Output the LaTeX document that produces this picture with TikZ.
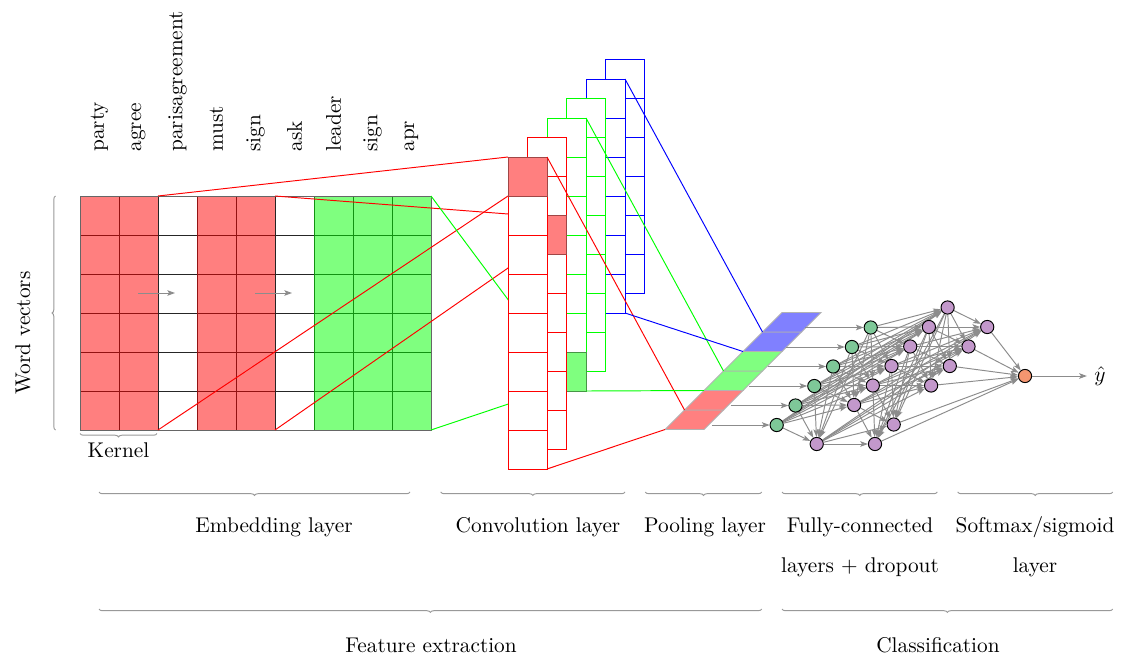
\documentclass[tikz,border=0pt]{standalone}
\usetikzlibrary{decorations.pathreplacing,arrows.meta,backgrounds}
\definecolor{ngreen}{RGB}{126,200,152}
\definecolor{npurple}{RGB}{195,152,203}
\definecolor{norange}{RGB}{245,150,112}
\definecolor{pred}{RGB}{255,128,128}
\definecolor{pgreen}{RGB}{128,255,128}
\definecolor{pblue}{RGB}{128,128,255}
\definecolor{cellred}{RGB}{255,0,0}
\definecolor{cellgreen}{RGB}{0,255,0}
\definecolor{cellblue}{RGB}{0,0,255}
\definecolor{edgered}{RGB}{160,70,70}
\definecolor{edgegreen}{RGB}{70,150,70}
\begin{document}
\begin{tikzpicture}[x=0.4695pt,y=-0.4695pt,
  nd/.style={circle, draw=black, line width=0.45pt, minimum size=6.2pt, inner sep=0pt},
  arr/.style={draw=black!45, line width=0.45pt, -{Stealth[length=3.6pt,width=2.6pt,inset=0.8pt]}},
  brc/.style={decorate, decoration={brace, amplitude=1.6pt}, draw=black!40, line width=0.45pt},
  wlabel/.style={rotate=90, anchor=west, inner sep=0pt},
  lbl/.style={anchor=base, inner sep=0pt},
  conn/.style={line width=0.45pt}]
\begin{pgfonlayer}{background}
  \fill[white] (0,0) rectangle (1121,660);
\end{pgfonlayer}
\useasboundingbox (0,0) rectangle (1121,660);

% ---------------- embedding matrix ----------------
\foreach \i in {0,...,9} \draw[black!85, line width=0.45pt] ({80+39*\i},196) -- ({80+39*\i},430);
\foreach \j in {0,...,6} \draw[black!85, line width=0.45pt] (80,{196+39*\j}) -- (431,{196+39*\j});
\fill[red, fill opacity=0.5] (80,196) rectangle (158,430);
\fill[red, fill opacity=0.5] (197,196) rectangle (275,430);
\fill[green, fill opacity=0.5] (314,196) rectangle (431,430);
\draw[black!60, line width=0.45pt] (80,196) rectangle (431,430);

\foreach \w [count=\i from 0] in {party,agree,parisagreement,must,sign,ask,leader,sign,apr}
  \node[wlabel] (w\i) at ({99.5+39*\i},152) {\w};

\coordinate (ea1) at (138,293); \coordinate (ea2) at (175,293);
\coordinate (eb1) at (255,293); \coordinate (eb2) at (292,293);
\draw[arr] (ea1) -- (ea2);
\draw[arr] (eb1) -- (eb2);

% braces near embedding
\coordinate (wvb1) at (55.5,430); \coordinate (wvb2) at (55.5,196);
\draw[brc] (wvb1) -- (wvb2);
\node[rotate=90] (wv) at (23,333) {Word vectors};
\coordinate (kb1) at (157,433.5); \coordinate (kb2) at (80,433.5);
\draw[brc] (kb1) -- (kb2);
\node[lbl] (kern) at (118.5,457.5) {Kernel};

% corner coordinates of embedding
\coordinate (k1t) at (158,196); \coordinate (k1b) at (158,430);
\coordinate (k2t) at (275,196); \coordinate (k2b) at (275,430);
\coordinate (k3t) at (431,196); \coordinate (k3b) at (431,430);

% conv targets
\coordinate (c0a) at (508,157);     \coordinate (c0b) at (508,196);
\coordinate (c1a) at (527.5,215.5); \coordinate (c1b) at (527.5,254.5);
\coordinate (c2a) at (547,352);     \coordinate (c2b) at (547,391);

% embedding -> conv lines (drawn before columns)
\draw[conn, cellred] (k1t) -- (c0a);
\draw[conn, cellred] (k1b) -- (c0b);
\draw[conn, cellred] (k2t) -- (c1a);
\draw[conn, cellred] (k2b) -- (c1b);
\draw[conn, cellgreen] (k3t) -- (c2a);
\draw[conn, cellgreen] (k3b) -- (c2b);

% ---------------- convolution columns ----------------
\foreach \k/\nc/\colr/\fc/\ecol in {5/6/cellblue/-1/cellblue, 4/6/cellblue/-1/cellblue, 3/7/cellgreen/-1/edgegreen, 2/7/cellgreen/6/edgegreen, 1/8/cellred/2/edgered, 0/8/cellred/0/edgered}{
  \pgfmathsetmacro\cx{508+19.5*\k}
  \pgfmathsetmacro\cy{157-19.5*\k}
  \pgfmathtruncatemacro\nm{\nc-1}
  \fill[white] (\cx,\cy) rectangle ++(39,{39*\nc});
  \draw[conn, draw=\colr] (\cx,\cy) rectangle ++(39,{39*\nc});
  \foreach \j in {1,...,\nm} \draw[conn, draw=\colr] (\cx,{\cy+39*\j}) -- ++(39,0);
  \ifnum\fc>-1
    \fill[fill=\colr, fill opacity=0.5] (\cx,{\cy+39*\fc}) rectangle ++(39,39);
    \draw[conn, draw=\ecol] (\cx,{\cy+39*\fc}) rectangle ++(39,39);
  \fi
}

% ---------------- pooling layer ----------------
\foreach \k/\colp in {0/pred,1/pred,2/pgreen,3/pgreen,4/pblue,5/pblue}{
  \pgfmathsetmacro\px{665+19.5*\k}
  \pgfmathsetmacro\py{429.5-19.5*\k}
  \fill[fill=\colp] (\px,\py) -- ++(39,0) -- ++(19.5,-19.5) -- ++(-39,0) -- cycle;
  \draw[draw=black!30, line width=0.45pt] (\px,\py) -- ++(39,0) -- ++(19.5,-19.5) -- ++(-39,0) -- cycle;
}

% conv -> pool lines
\coordinate (r0t) at (547,157);     \coordinate (r0b) at (547,469);
\coordinate (g2t) at (586,118);     \coordinate (g2b) at (586,391);
\coordinate (b4t) at (625,79);      \coordinate (b4b) at (625,313);
\coordinate (p0t) at (684.5,410);   \coordinate (p0b) at (665,429.5);
\coordinate (p2t) at (723.5,371);   \coordinate (p2b) at (704,390.5);
\coordinate (p4t) at (762.5,332);   \coordinate (p4b) at (743,351.5);
\draw[conn, cellred] (r0t) -- (p0t);
\draw[conn, cellred] (r0b) -- (p0b);
\draw[conn, cellgreen] (g2t) -- (p2t);
\draw[conn, cellgreen] (g2b) -- (p2b);
\draw[conn, cellblue] (b4t) -- (p4t);
\draw[conn, cellblue] (b4b) -- (p4b);

% ---------------- fully connected network ----------------
\foreach \k in {0,...,5}
  \node[nd, fill=ngreen] (g\k) at ({776.7+18.8*\k},{425-19.5*\k}) {};
\foreach \k in {0,2,3,4,5,6,7}
  \node[nd, fill=npurple] (a\k) at ({816.7+18.7*\k},{444-19.5*\k}) {};
\foreach \k in {0,1,3,4,5,6}
  \node[nd, fill=npurple] (b\k) at ({875+18.7*\k},{444-19.5*\k}) {};
\node[nd, fill=norange] (o) at (1025,376) {};
\node (yh) at (1100,376) {$\hat{y}$};

\foreach \k in {0,...,5}{
  \coordinate (ps\k) at ({712+18.6*\k},{425-19.5*\k});
  \draw[arr] (ps\k) -- (g\k);
}
\draw[arr] (o) -- (yh);

\begin{pgfonlayer}{background}
  \foreach \i in {0,...,5}{\foreach \j in {0,2,3,4,5,6,7}{\draw[arr] (g\i) -- (a\j);}}
  \foreach \i in {0,2,3,4,5,6,7}{\foreach \j in {0,1,3,4,5,6}{\draw[arr] (a\i) -- (b\j);}}
  \foreach \i in {0,1,3,4,5,6}{\draw[arr] (b\i) -- (o);}
\end{pgfonlayer}

% ---------------- braces and labels ----------------
\coordinate (be1) at (410,492);   \coordinate (be2) at (99,492);
\coordinate (bc1) at (625,492);   \coordinate (bc2) at (440.7,492);
\coordinate (bp1) at (761.7,492); \coordinate (bp2) at (645.3,492);
\coordinate (bf1) at (937.3,492); \coordinate (bf2) at (782,492);
\coordinate (bs1) at (1112.7,492);\coordinate (bs2) at (957.7,492);
\coordinate (bx1) at (761.7,609); \coordinate (bx2) at (99,609);
\coordinate (by1) at (1112.7,609);\coordinate (by2) at (782,609);
\draw[brc] (be1) -- (be2);
\draw[brc] (bc1) -- (bc2);
\draw[brc] (bp1) -- (bp2);
\draw[brc] (bf1) -- (bf2);
\draw[brc] (bs1) -- (bs2);
\draw[brc] (bx1) -- (bx2);
\draw[brc] (by1) -- (by2);

\node[lbl] (le) at (274,532) {Embedding layer};
\node[lbl] (lc) at (538,532) {Convolution layer};
\node[lbl] (lp) at (705,532) {Pooling layer};
\node[lbl] (lf) at (860,532) {\begin{tabular}[t]{@{}c@{}}Fully-connected\\[6.8pt] layers + dropout\end{tabular}};
\node[lbl] (ls) at (1035,532) {\begin{tabular}[t]{@{}c@{}}Softmax/sigmoid\\[6.8pt] layer\end{tabular}};
\node[lbl] (lx) at (431,652) {Feature extraction};
\node[lbl] (ly) at (938,652) {Classification};
\end{tikzpicture}
\end{document}
